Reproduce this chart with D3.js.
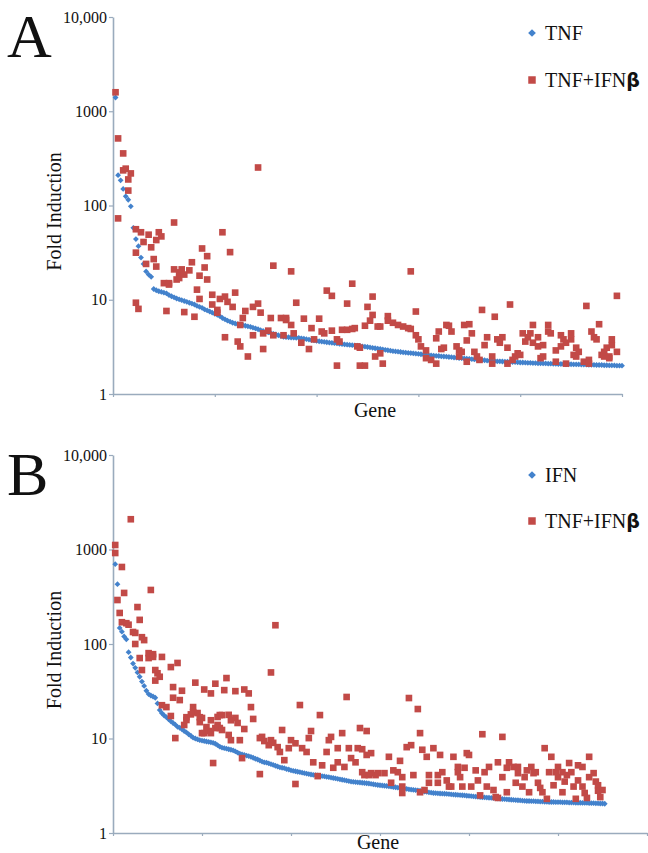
<!DOCTYPE html>
<html>
<head>
<meta charset="utf-8">
<script src="https://cdn.jsdelivr.net/npm/d3@7"></script>
<style>
  body { margin: 0; background: #fff; }
  svg { display: block; }
  svg text { font-family: "Liberation Serif", "DejaVu Serif", serif; }
</style>
</head>
<body>
<div id="chart"></div>
<script>
// y ticks (log scale) and their printed labels
const yTicks = [1, 10, 100, 1000, 10000];
const yTickLabels = ["1", "10", "100", "1000", "10,000"];

// panel A: genes ranked by TNF fold induction (blue), same genes under TNF+IFNb (red)
const genesA = 200;
const geneTicksA = [0, 40, 80, 120, 160, 200];
const tnfA = [1400,210,185,150,125,115,98,58,44,37,
  28,24,20,18.5,17.5,13,12.6,12.3,12.1,11.9,
  11.7,11.2,10.9,10.6,10.3,10.1,9.9,9.7,9.5,9.3,
  9.1,8.9,8.6,8.4,8.2,7.9,7.7,7.5,7.3,7.1,
  6.9,6.7,6.4,6.2,6.0,5.85,5.7,5.6,5.5,5.45,
  5.38,5.3,5.22,5.16,5.06,4.96,4.86,4.76,4.66,4.57,
  4.5,4.42,4.35,4.28,4.2,4.12,4.04,4.02,4.0,3.98,
  3.96,3.95,3.94,3.9,3.86,3.82,3.78,3.74,3.7,3.66,
  3.63,3.6,3.57,3.54,3.51,3.49,3.46,3.44,3.41,3.39,
  3.36,3.34,3.32,3.3,3.28,3.25,3.23,3.2,3.18,3.15,
  3.12,3.09,3.06,3.03,3.0,2.97,2.94,2.91,2.88,2.85,
  2.83,2.81,2.79,2.77,2.75,2.73,2.72,2.7,2.68,2.66,
  2.64,2.62,2.6,2.58,2.57,2.55,2.54,2.53,2.51,2.5,
  2.49,2.47,2.46,2.44,2.43,2.41,2.4,2.38,2.37,2.36,
  2.34,2.33,2.32,2.31,2.29,2.28,2.26,2.25,2.24,2.23,
  2.22,2.22,2.21,2.2,2.2,2.19,2.18,2.18,2.17,2.16,
  2.16,2.15,2.14,2.14,2.13,2.13,2.12,2.12,2.11,2.11,
  2.1,2.1,2.09,2.09,2.08,2.08,2.08,2.07,2.07,2.07,
  2.06,2.06,2.06,2.05,2.05,2.05,2.04,2.04,2.04,2.03,
  2.03,2.03,2.02,2.02,2.01,2.01,2.01,2.0,2.0,2.0];
// [gene rank, fold]
const comboA = [[1,1590],[2,515],[2,73],[4,236],[4,357],[5,246],[6,189],[6,144],[7,219],[9,9.3],
  [9,56],[10,8],[9,31.6],[11,52],[12,41],[13,24],[14,49],[15,36],[16,27],[17,43],
  [17,22.5],[18,52],[19,47],[20,15],[21,7.6],[22,15],[22,14.5],[24,66],[24,21],[25,16.4],
  [26,19.5],[26,17],[27,21],[28,18.5],[28,7.4],[30,20.5],[31,25],[32,6.6],[33,12.8],[34,10.2],
  [34,18],[35,35],[36,22],[37,29],[37,16.4],[39,11.3],[39,8.9],[41,7.8],[41,7.3],[42,10.2],
  [43,52],[44,10.8],[44,4.0],[45,9.5],[46,32],[47,8.4],[48,11.9],[49,3.6],[50,3.2],[50,5.4],
  [51,6.4],[52,7.6],[53,2.5],[55,4.2],[55,8.4],[57,9.1],[57,253],[58,7.3],[59,3.0],[59,4.4],
  [61,4.7],[62,6.4],[63,23],[63,4.2],[66,6.4],[67,4.2],[68,6.1],[68,6.4],[70,5.4],[70,20],
  [71,4.4],[72,9.3],[74,3.5],[75,6.3],[77,3.0],[78,5.0],[79,3.8],[81,6.3],[82,4.6],[83,4.4],
  [84,12.5],[86,11],[86,4.7],[88,3.8],[88,2.0],[89,3.6],[90,4.8],[92,4.8],[92,9.1],[94,14.8],
  [94,4.9],[95,5.0],[96,3.2],[97,3.1],[97,2.0],[99,5.3],[99,2.0],[100,8.4],[101,6.0],[102,10.8],
  [102,6.9],[103,2.5],[104,5.2],[105,2.7],[105,5.2],[106,2.1],[108,6.7],[108,6.0],[110,5.7],[112,5.4],
  [114,5.2],[116,5.0],[117,20],[117,4.9],[119,7.5],[119,4.2],[120,3.8],[121,3.2],[123,2.9],[123,2.4],
  [125,2.3],[127,2.1],[127,3.9],[128,4.6],[129,3.0],[130,3.1],[131,5.4],[132,5.3],[133,4.6],[135,3.2],
  [136,2.5],[136,2.9],[137,2.8],[138,5.4],[139,3.7],[139,2.2],[140,5.5],[141,4.4],[142,2.8],[143,2.5],
  [144,2.3],[145,7.8],[146,3.3],[147,4.0],[149,2.1],[149,2.5],[150,6.6],[151,3.8],[152,3.5],[153,4.0],
  [155,2.1],[155,3.1],[156,8.9],[157,2.3],[158,2.5],[159,2.7],[160,2.6],[161,4.4],[162,3.6],[163,4.0],
  [164,4.4],[165,5.4],[165,3.5],[167,3.2],[167,4.0],[168,2.4],[169,3.3],[169,2.5],[171,5.4],[171,4.6],
  [172,4.4],[174,2.9],[174,2.2],[176,3.2],[176,4.2],[177,3.8],[178,2.1],[178,3.5],[180,4.4],[180,3.8],
  [181,2.6],[182,3.1],[182,2.5],[183,2.8],[185,2.2],[186,8.6],[187,2.1],[187,2.3],[188,4.6],[189,4.0],
  [190,3.8],[191,5.5],[192,2.6],[193,2.5],[193,2.8],[194,3.1],[195,2.5],[195,2.4],[196,3.3],[196,3.8],
  [198,2.8],[198,11.0]];

// panel B: genes ranked by IFN fold induction (blue), same genes under TNF+IFNb (red)
const genesB = 240;
const geneTicksB = [0, 40, 80, 120, 160, 200, 240];
const ifnB = [700,430,148,135,120,112,82,72,62,56,
  50,45,40,36,32,29.5,28.5,27.8,27,23.5,
  20,18.5,17.5,16.8,16,15.2,14.6,14,13.3,13,
  12.5,12,11.6,11.1,10.7,10.2,10.0,9.8,9.6,9.5,
  9.4,9.3,9.2,9.1,9.0,8.8,8.5,8.2,8.0,7.9,
  7.8,7.7,7.6,7.5,7.3,7.1,6.9,6.8,6.7,6.6,
  6.5,6.4,6.25,6.1,6.0,5.85,5.7,5.6,5.55,5.45,
  5.35,5.25,5.15,5.05,4.95,4.9,4.85,4.75,4.7,4.6,
  4.55,4.5,4.45,4.4,4.35,4.3,4.25,4.2,4.16,4.12,
  4.1,4.07,4.03,4.0,3.97,3.93,3.9,3.86,3.82,3.78,
  3.74,3.7,3.66,3.62,3.58,3.54,3.5,3.48,3.46,3.44,
  3.42,3.4,3.38,3.36,3.34,3.31,3.28,3.25,3.22,3.2,
  3.18,3.16,3.14,3.12,3.09,3.07,3.05,3.02,3.0,2.98,
  2.95,2.93,2.9,2.88,2.86,2.84,2.82,2.8,2.77,2.74,
  2.72,2.69,2.67,2.65,2.64,2.63,2.62,2.61,2.6,2.59,
  2.58,2.56,2.55,2.54,2.53,2.52,2.51,2.5,2.48,2.47,
  2.46,2.44,2.43,2.42,2.4,2.39,2.38,2.37,2.36,2.35,
  2.34,2.33,2.32,2.3,2.29,2.28,2.27,2.26,2.25,2.24,
  2.23,2.22,2.21,2.2,2.19,2.18,2.18,2.17,2.17,2.16,
  2.16,2.15,2.15,2.14,2.14,2.13,2.13,2.13,2.12,2.12,
  2.12,2.11,2.11,2.11,2.1,2.1,2.1,2.09,2.09,2.09,
  2.08,2.08,2.08,2.07,2.07,2.07,2.06,2.06,2.05,2.05,
  2.04];
const comboB = [[1,1116],[1,918],[2,292],[3,213],[4,653],[5,347],[4,170],[6,166],[7,160],[8,2090],
  [9,134],[10,131],[10,100],[11,246],[12,180],[12,71],[13,53],[13,118],[14,110],[16,71],
  [16,80],[17,373],[18,78],[18,73],[19,53],[19,41],[20,49],[21,45],[22,73],[22,22.5],
  [24,21.5],[26,57],[26,17.3],[27,35],[27,27],[28,10.1],[29,63],[30,25.5],[31,32],[32,13.9],
  [33,15.7],[33,16.8],[35,18],[36,19],[36,21.5],[37,39],[38,18.6],[39,16.8],[39,14.9],[40,11.4],
  [40,16.5],[41,11.4],[41,33],[42,13.2],[43,12],[44,15.6],[44,30],[44,11.4],[45,5.5],[46,12.9],
  [46,38],[47,13.9],[47,16.9],[48,12.9],[48,17.7],[49,17.7],[49,12.3],[50,32.5],[51,43.6],[52,17.8],
  [52,10.9],[53,9.6],[53,15.6],[55,31.7],[55,16.5],[56,14.6],[57,9.6],[58,6.2],[59,12.6],[59,33],
  [61,30],[62,21.5],[63,16.1],[66,10.1],[66,4.2],[67,10.4],[68,9.4],[70,8.5],[71,9.6],[71,50],
  [72,9.0],[73,158],[74,8.1],[75,7.2],[76,12.3],[77,5.9],[79,7.9],[80,9.6],[82,8.9],[82,3.3],
  [84,22.6],[85,7.9],[87,7.2],[88,10.1],[89,12],[90,5.6],[92,4.0],[93,17.7],[94,5.2],[96,7.2],
  [97,9.6],[98,10.4],[99,4.9],[101,7.9],[101,5.6],[103,11.4],[104,5.0],[105,27.5],[106,7.9],[107,6.2],
  [109,5.6],[110,7.9],[111,12.9],[112,7.7],[112,4.4],[113,4.1],[114,6.7],[114,12.0],[115,4.1],[116,4.3],
  [116,7.0],[118,4.1],[119,4.3],[122,4.3],[124,6.4],[125,3.4],[126,4.6],[128,4.4],[129,5.8],[130,3.9],
  [130,3.1],[130,2.65],[132,8.1],[133,26.8],[134,8.5],[135,4.1],[137,20.5],[138,11.4],[138,2.7],[139,7.6],
  [140,2.85],[141,6.4],[142,3.4],[142,4.1],[144,7.9],[146,3.4],[146,4.1],[147,6.7],[148,4.4],[150,3.6],
  [151,3.1],[152,3.1],[153,6.4],[155,5.0],[155,4.4],[156,3.9],[157,3.1],[158,4.9],[159,7.0],[160,6.7],
  [161,3.1],[163,4.6],[164,3.6],[165,2.5],[166,11.1],[167,4.4],[168,3.1],[169,5.0],[171,2.85],[172,2.4],
  [173,2.35],[173,5.6],[175,3.9],[175,10.4],[177,4.9],[177,2.7],[178,5.6],[180,5.0],[181,3.4],[182,4.3],
  [182,5.0],[184,3.1],[185,3.9],[186,4.6],[187,2.7],[188,5.0],[189,4.3],[190,4.4],[191,3.4],[192,3.0],
  [193,2.7],[194,7.9],[195,2.3],[196,4.4],[197,6.4],[198,3.2],[199,4.4],[200,5.0],[200,3.9],[202,2.7],
  [202,4.4],[203,3.5],[204,4.1],[205,5.5],[206,4.4],[207,3.1],[208,2.3],[209,3.6],[209,5.2],[211,5.0],
  [211,3.1],[212,2.65],[213,2.35],[214,3.9],[214,6.4],[216,4.3],[217,3.5],[218,3.2],[218,2.8],[219,2.4],
  [220,2.85]];

const blue = "#4382cc", red = "#c24a47", axisColor = "#9aabbd";
const serif = "'Liberation Serif', 'DejaVu Serif', serif";

const svg = d3.select("#chart").append("svg")
    .attr("width", 648)
    .attr("height", 853);

function drawPanel(p) {
    const xScale = d3.scaleLinear().domain([0, p.genes]).range([113, p.right]),
          yScale = d3.scaleLog().domain([1, 10000]).range([p.bottom, p.top]);

    const g = svg.append("g");

    // panel letter
    g.append("text")
        .attr("x", 7).attr("y", p.top + 40)
        .style("font-family", serif)
        .style("font-size", "62px")
        .style("fill", "#111")
        .text(p.letter);

    const yAxis = g.append("g")
        .attr("transform", "translate(113,0)")
        .call(d3.axisLeft(yScale).tickValues(yTicks)
            .tickFormat((d, i) => yTickLabels[i])
            .tickSize(4).tickSizeOuter(0).tickPadding(2));

    const xAxis = g.append("g")
        .attr("transform", `translate(0,${p.bottom})`)
        .call(d3.axisBottom(xScale).tickValues(p.geneTicks)
            .tickFormat("").tickSize(3).tickSizeOuter(0));

    [yAxis, xAxis].forEach(ax => {
        ax.select(".domain").attr("stroke", axisColor).attr("stroke-width", 1.6);
        ax.selectAll(".tick line").attr("stroke", axisColor).attr("stroke-width", 1.2);
        ax.selectAll("text")
            .attr("font-family", null)
            .style("font-family", serif)
            .style("font-size", "16px")
            .style("fill", "#111");
    });

    g.append("text")
        .attr("transform", `translate(${p.ylabelX},${(p.top + p.bottom) / 2 + 6}) rotate(-90)`)
        .attr("text-anchor", "middle")
        .style("font-family", serif)
        .style("font-size", "20px")
        .style("fill", "#111")
        .text("Fold Induction");

    g.append("text")
        .attr("x", p.geneX).attr("y", p.geneY)
        .attr("text-anchor", "middle")
        .style("font-family", serif)
        .style("font-size", "20px")
        .style("fill", "#111")
        .text("Gene");

    const diamond = d3.symbol().type(d3.symbolSquare).size(17);
    const square = d3.symbol().type(d3.symbolSquare).size(44);

    g.selectAll(".single")
        .data(p.single)
        .enter().append("path")
        .attr("class", "single")
        .attr("d", diamond)
        .attr("transform", (d, i) => `translate(${xScale(i + 1)},${yScale(d)}) rotate(45)`)
        .attr("fill", blue);

    g.selectAll(".combo")
        .data(p.combo)
        .enter().append("path")
        .attr("class", "combo")
        .attr("d", square)
        .attr("transform", d => `translate(${xScale(d[0])},${yScale(d[1])})`)
        .attr("fill", red);

    // legend
    const leg = g.append("g");
    leg.append("path")
        .attr("d", d3.symbol().type(d3.symbolSquare).size(30))
        .attr("transform", `translate(532,${p.legY1}) rotate(45)`)
        .attr("fill", blue);
    leg.append("text")
        .attr("x", 545).attr("y", p.legY1 + 7)
        .style("font-family", serif)
        .style("font-size", "20px")
        .style("fill", "#111")
        .text(p.singleName);
    leg.append("path")
        .attr("d", d3.symbol().type(d3.symbolSquare).size(56))
        .attr("transform", `translate(532,${p.legY2})`)
        .attr("fill", red);
    const t = leg.append("text")
        .attr("x", 545).attr("y", p.legY2 + 7)
        .style("font-family", serif)
        .style("font-size", "20px")
        .style("fill", "#111");
    t.append("tspan").text("TNF+IFN");
    t.append("tspan").style("font-weight", "bold").style("font-family", "'DejaVu Sans', sans-serif")
        .style("font-size", "19px").text("β");
}

drawPanel({
    letter: "A", top: 17, bottom: 394, right: 622, genes: genesA, geneTicks: geneTicksA,
    single: tnfA, combo: comboA, singleName: "TNF",
    ylabelX: 61, geneX: 375, geneY: 417, legY1: 33, legY2: 80
});

drawPanel({
    letter: "B", top: 455, bottom: 833, right: 647, genes: genesB, geneTicks: geneTicksB,
    single: ifnB, combo: comboB, singleName: "IFN",
    ylabelX: 61, geneX: 378, geneY: 849, legY1: 475, legY2: 521
});
</script>
</body>
</html>
